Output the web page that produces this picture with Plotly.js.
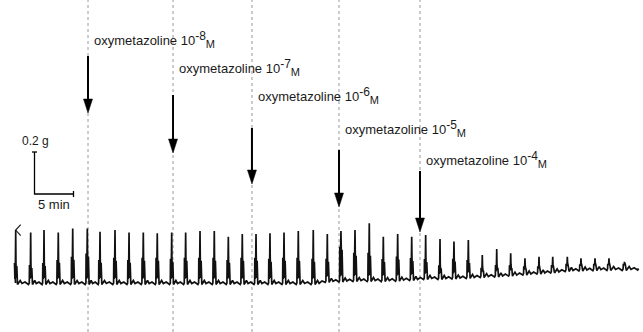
<!DOCTYPE html>
<html><head><meta charset="utf-8">
<script src="https://cdn.plot.ly/plotly-3.0.1.min.js"></script>
<style>html,body{margin:0;padding:0;background:#fff;}#chart{width:643px;height:332px;}</style>
</head><body><div id="chart"></div>
<script>
// ---------------- DATA ----------------
// contraction peak times, minutes from start of trace
const spikeTimes = [0.09, 2.01, 3.72, 5.55, 7.40, 9.27, 10.90, 12.82, 14.62, 16.45,
  18.24, 20.09, 21.88, 23.72, 25.55, 27.35, 29.14, 30.90, 32.69, 34.49,
  36.32, 38.24, 40.04, 41.79, 43.59, 45.42, 47.22, 49.06, 50.86, 52.65,
  54.49, 56.28, 58.12, 59.91, 61.76, 63.55, 65.38, 67.18, 68.94, 70.81,
  72.56, 74.36, 76.15, 78.14];
// peak tension, g (relative to initial resting level)
const spikePeaks = [0.252, 0.241, 0.252, 0.241, 0.260, 0.260, 0.244, 0.252, 0.241, 0.241,
  0.237, 0.241, 0.241, 0.248, 0.248, 0.220, 0.233, 0.233, 0.237, 0.241,
  0.248, 0.252, 0.233, 0.248, 0.252, 0.284, 0.220, 0.233, 0.220, 0.229,
  0.210, 0.197, 0.205, 0.133, 0.162, 0.141, 0.118, 0.125, 0.125, 0.125,
  0.118, 0.118, 0.118, 0.101];
// height of the broad (slow) component of each contraction above rest, g
const shoulderAmps = [0.095, 0.086, 0.095, 0.110, 0.125, 0.140, 0.110, 0.120, 0.110, 0.120,
  0.120, 0.115, 0.120, 0.120, 0.120, 0.110, 0.120, 0.120, 0.115, 0.120,
  0.120, 0.115, 0.105, 0.160, 0.130, 0.130, 0.100, 0.110, 0.100, 0.090,
  0.060, 0.090, 0.080, 0.040, 0.050, 0.045, 0.035, 0.030, 0.030, 0.030,
  0.025, 0.025, 0.025, 0.020];
// resting tension before each contraction, g
const restLevels = [0, 0, 0, 0, 0, 0, 0, 0, 0, 0,
  0, 0, 0, 0, 0, 0, 0, 0, 0, 0,
  0, 0, 0.010, 0.012, 0.014, 0.014, 0.014, 0.016, 0.019, 0.024,
  0.024, 0.026, 0.029, 0.033, 0.036, 0.040, 0.045, 0.050, 0.055, 0.062,
  0.064, 0.066, 0.067, 0.067];
const traceEndTime = 80.13;
const traceEndRest = 0.069;
// cumulative doses
const drugName = 'oxymetazoline';
const doseExponents = ['-8', '-7', '-6', '-5', '-4'];
const doseUnit = 'M';
const doseTimes = [9.36, 20.26, 30.38, 41.54, 51.92];
// calibration bar
const scaleBarG = 0.2;
const scaleBarMin = 5;

// ---------------- LAYOUT / GEOMETRY ----------------
const W = 643, H = 332;
const originPxX = 15, originPxY = 283;
const pxPerMin = 39 / scaleBarMin;
const pxPerG = 42 / scaleBarG;
const dx = n => n / pxPerMin;
const dy = n => n / pxPerG;
const yOfPx = py => (originPxY - py) / pxPerG;
const xRange = [-originPxX / pxPerMin, (W - originPxX) / pxPerMin];
const yRange = [-(H - originPxY) / pxPerG, originPxY / pxPerG];

// build the recorder trace from the contraction list
const tx = [], ty = [];
function pt(x, y) { tx.push(x); ty.push(y); }
for (let i = 0; i < spikeTimes.length; i++) {
  const t = spikeTimes[i], b = restLevels[i], p = spikePeaks[i], s = b + shoulderAmps[i];
  const tn = i < spikeTimes.length - 1 ? spikeTimes[i + 1] : traceEndTime;
  const bn = i < spikeTimes.length - 1 ? restLevels[i + 1] : traceEndRest;
  const d = tn - t;
  if (i === 0) pt(t - dx(0.2), b);
  pt(t - dx(1.2), s);
  pt(t - dx(0.8), b + dy(4));
  pt(t - dx(0.3), s);
  pt(t, p);
  pt(t + dx(0.25), s + dy(1));
  pt(t + dx(0.7), b + dy(5));
  pt(t + dx(1.1), s - dy(3));
  pt(t + dx(1.8), b - dy(1.5));
  pt(t + 0.30 * d, b + dy(2.5));
  pt(t + 0.42 * d, b - dy(0.5));
  pt(t + 0.62 * d, (b + bn) / 2 + dy(1));
  pt(t + 0.85 * d, bn - dy(1.5));
  pt(tn - dx(1.4), bn);
}

const traces = [{
  type: 'scatter', mode: 'lines', x: tx, y: ty,
  line: {color: '#111', width: 1.7}, hoverinfo: 'skip'
}];

const shapes = [];
const annotations = [];
const font = 'Liberation Sans, Arial, sans-serif';

// dashed dose lines
doseTimes.forEach(t => {
  shapes.push({type: 'line', xref: 'x', yref: 'paper', x0: t, x1: t, y0: 0, y1: 1,
    line: {color: '#a3a3a3', width: 1.1, dash: 'dot'}, layer: 'below'});
});

// arrows + labels
const arrowTopPx = [56, 95, 128, 150, 171];
const arrowTipPx = [113, 153, 184, 207, 232];
const labelMidPx = [40, 67, 95, 129, 159];
doseTimes.forEach((t, i) => {
  const tip = yOfPx(arrowTipPx[i]);
  shapes.push({type: 'line', xref: 'x', yref: 'y', x0: t, x1: t,
    y0: yOfPx(arrowTopPx[i]), y1: tip + dy(10), line: {color: '#000', width: 2}});
  shapes.push({type: 'path', xref: 'x', yref: 'y',
    path: `M${t - dx(4.5)},${tip + dy(14)} L${t + dx(4.5)},${tip + dy(14)} L${t},${tip} Z`,
    fillcolor: '#000', line: {color: '#000', width: 0.5}});
  annotations.push({xref: 'x', yref: 'paper', x: t + dx(4), y: 1 - labelMidPx[i] / H,
    xanchor: 'left', yanchor: 'middle', showarrow: false,
    text: `${drugName} 10<sup><span style="font-size:12px">${doseExponents[i]}</span></sup>` +
          `<sub><span style="font-size:11px">${doseUnit}</span></sub>`,
    font: {family: font, size: 13, color: '#1a1a1a'}});
});

// pen marker at start
const t0 = spikeTimes[0], p0 = spikePeaks[0];
shapes.push({type: 'path', xref: 'x', yref: 'y',
  path: `M${t0 + dx(5)},${p0 + dy(5.5)} L${t0},${p0} L${t0 + dx(5)},${p0 - dy(5.5)}`,
  line: {color: '#222', width: 1.2}});

// calibration bar
const sbX = (34.5 - originPxX) / pxPerMin;
const sbY = yOfPx(194);
shapes.push({type: 'path', xref: 'x', yref: 'y',
  path: `M${sbX},${sbY + scaleBarG} L${sbX},${sbY} L${sbX + scaleBarMin},${sbY}`,
  line: {color: '#000', width: 1.3}});
shapes.push({type: 'line', xref: 'x', yref: 'y', x0: sbX - dx(2.5), x1: sbX + dx(2.5),
  y0: sbY + scaleBarG, y1: sbY + scaleBarG, line: {color: '#000', width: 1.3}});
shapes.push({type: 'line', xref: 'x', yref: 'y', x0: sbX + scaleBarMin, x1: sbX + scaleBarMin,
  y0: sbY - dy(3), y1: sbY + dy(3), line: {color: '#000', width: 1.3}});
annotations.push({xref: 'x', yref: 'y', x: sbX + dx(0.5), y: sbY + scaleBarG + dy(2),
  xanchor: 'center', yanchor: 'bottom', showarrow: false, text: scaleBarG + ' g',
  font: {family: font, size: 12, color: '#1a1a1a'}});
annotations.push({xref: 'x', yref: 'y', x: sbX + scaleBarMin / 2, y: sbY - dy(1),
  xanchor: 'center', yanchor: 'top', showarrow: false, text: scaleBarMin + ' min',
  font: {family: font, size: 13, color: '#1a1a1a'}});

const layout = {
  width: W, height: H, margin: {l: 0, r: 0, t: 0, b: 0},
  paper_bgcolor: '#fff', plot_bgcolor: '#fff', showlegend: false,
  xaxis: {range: xRange, visible: false, fixedrange: true},
  yaxis: {range: yRange, visible: false, fixedrange: true},
  shapes, annotations
};
Plotly.newPlot('chart', traces, layout, {staticPlot: true, displayModeBar: false});
</script></body></html>
